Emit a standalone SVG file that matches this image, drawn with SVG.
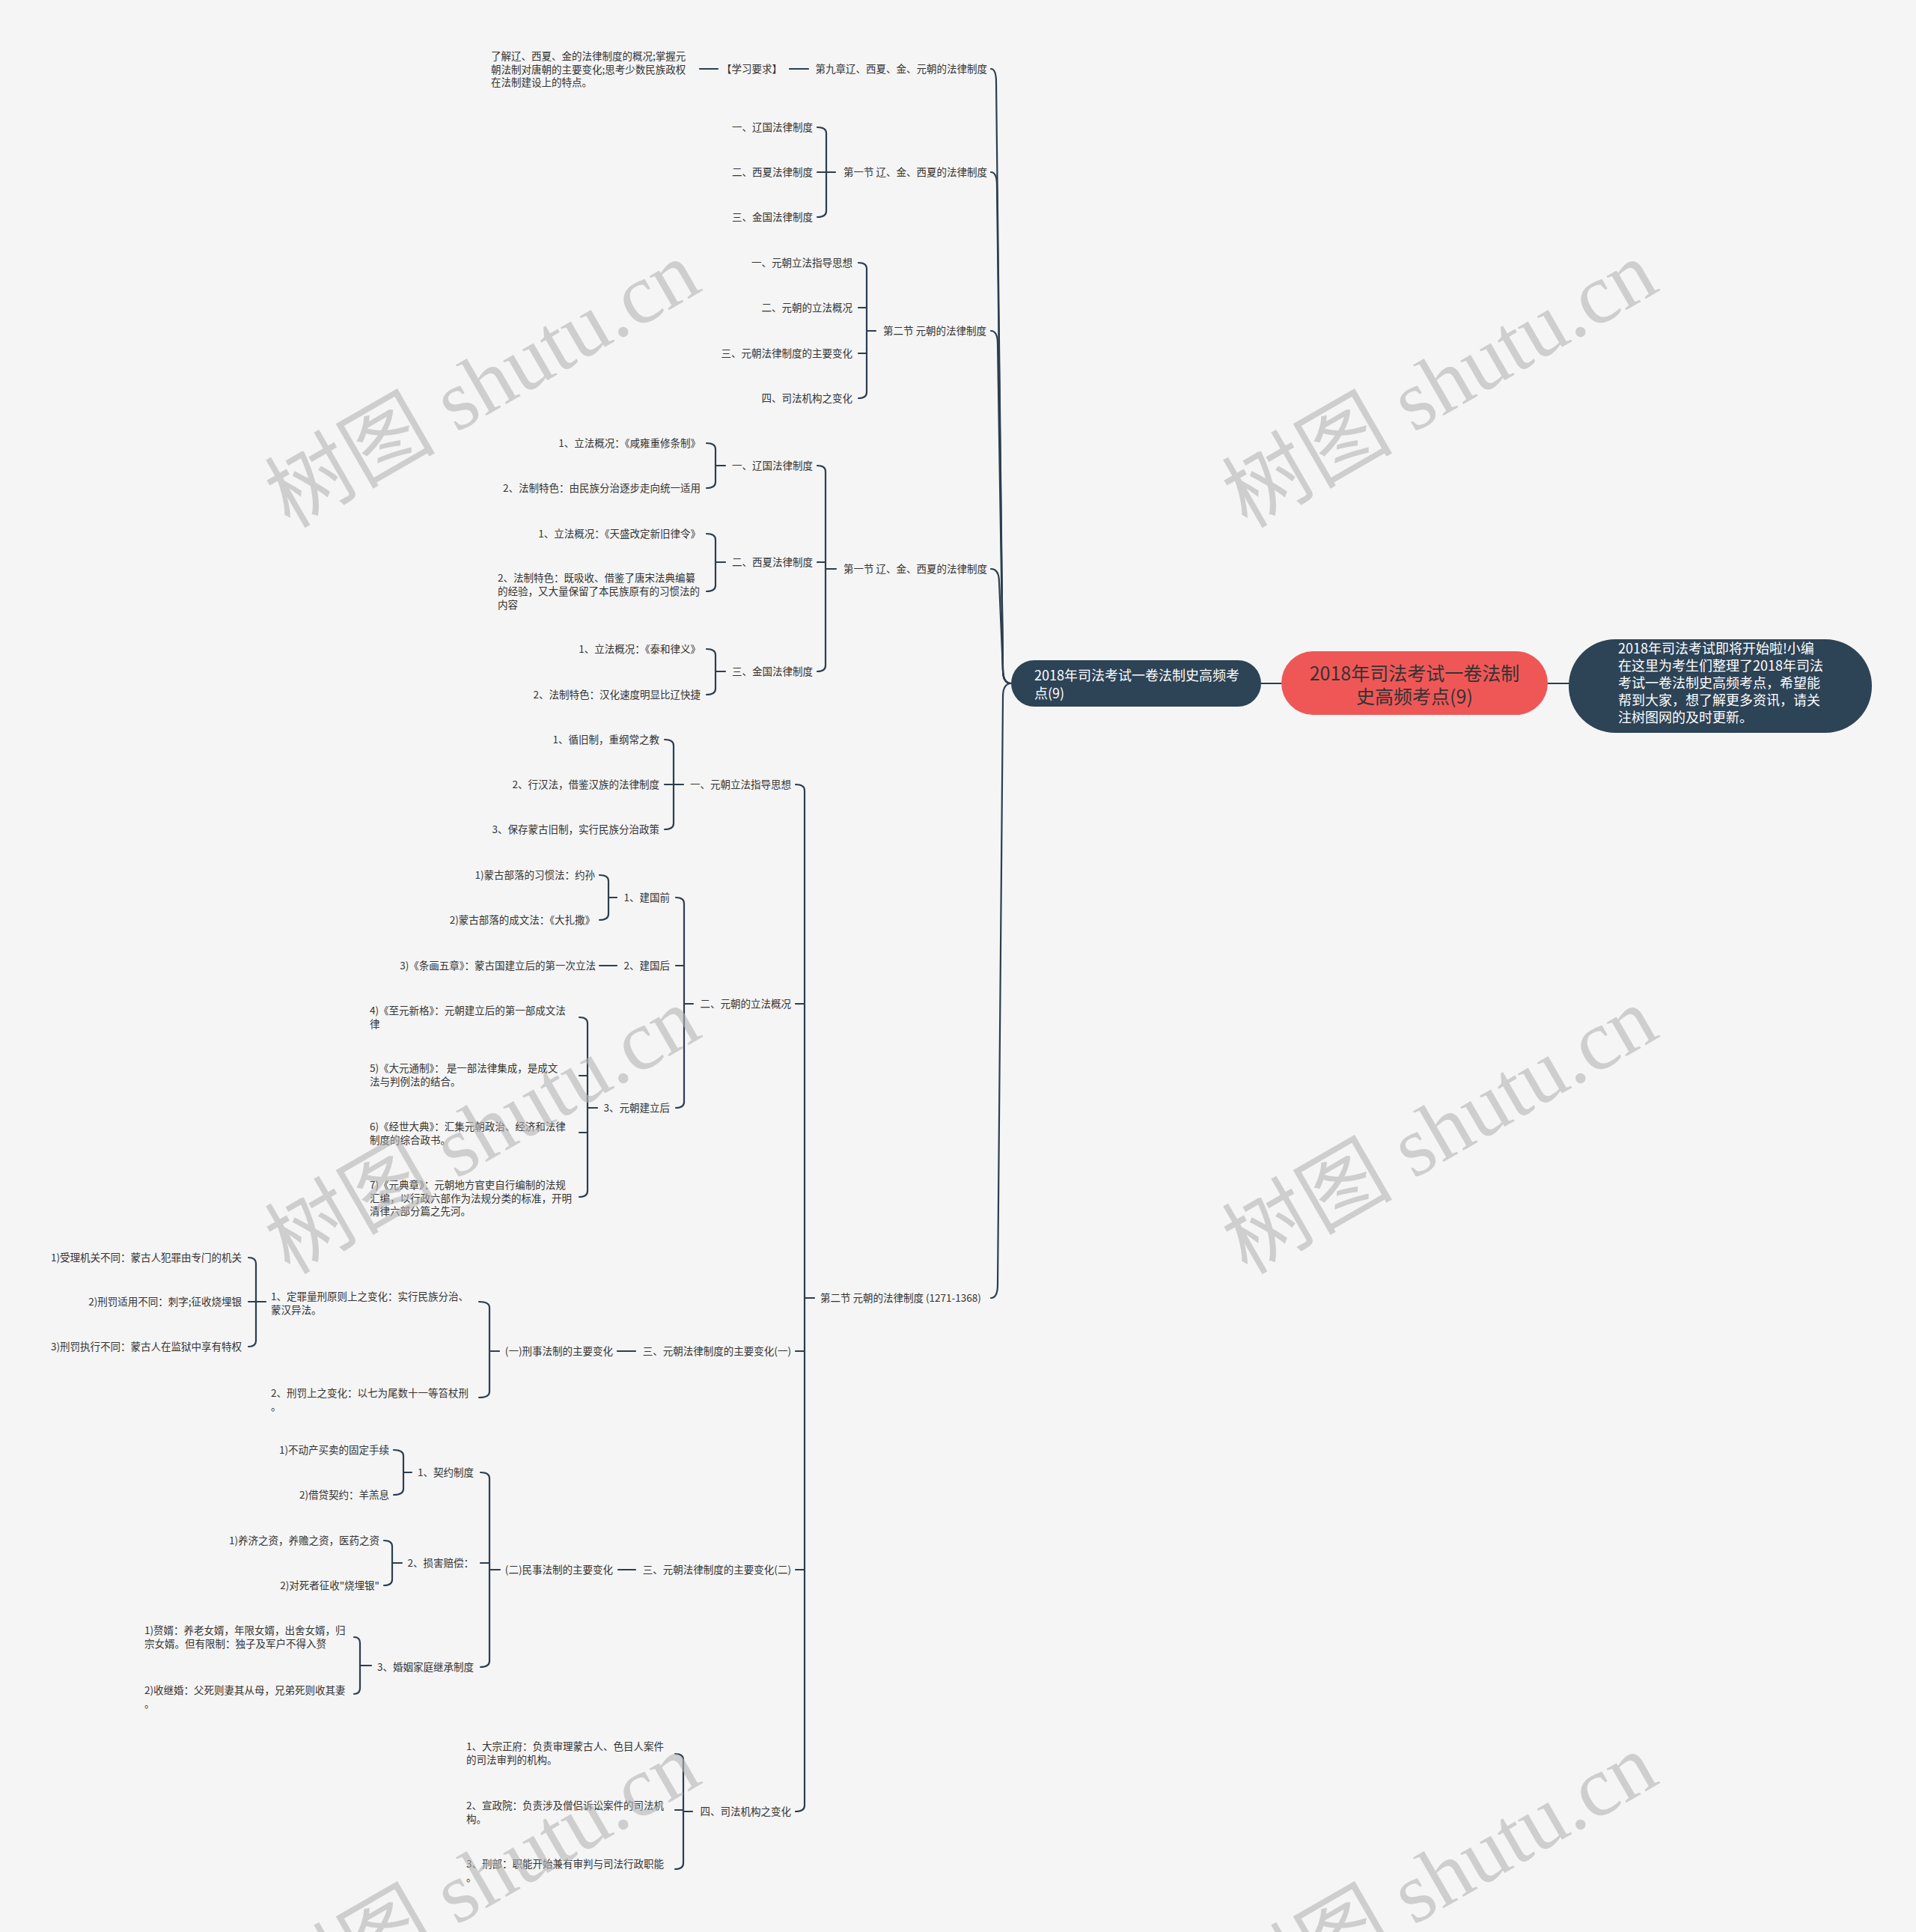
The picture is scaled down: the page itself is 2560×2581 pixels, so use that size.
<svg xmlns="http://www.w3.org/2000/svg" width="2560" height="2581" viewBox="0 0 2560 2581">
<style>
.t{font-family:"Noto Sans CJK SC","Noto Sans",sans-serif;font-size:13.5px;fill:#333333}
.e{text-anchor:end}
.ln{fill:none;stroke:#2C3E50;stroke-width:2.2;stroke-linecap:round}
.wm{font-family:"Liberation Serif","Noto Sans CJK SC",serif;font-size:114px;fill:#b4b4b4;fill-opacity:0.6;text-anchor:middle}
.nw{font-family:"Noto Sans CJK SC","Noto Sans",sans-serif;font-size:18px;fill:#ffffff}
</style>
<rect x="0" y="0" width="2560" height="2581" fill="#F5F5F5"/>

<g id="connectors" class="ln">
<path d="M1712 913 L1685 913"/>
<path d="M2068 913 L2096 913"/>
<path d="M1351 913 Q1340 913 1340 895 L1331 110 Q1331 92 1324 92"/>
<path d="M1351 913 Q1340 913 1340 895 L1332 248 Q1332 230 1324 230"/>
<path d="M1351 913 Q1340 913 1340 895 L1333 460 Q1333 442 1324 442"/>
<path d="M1351 913 Q1340 913 1340 895 L1335 778 Q1335 760 1324 760"/>
<path d="M1351 913 Q1340 913 1340 931 L1333 1716 Q1333 1734 1324 1734"/>
<path d="M1055 92 L1080 92 M935 92 L959 92"/>
<path d="M1092 170 Q1104 170 1104 178 L1104 282 Q1104 290 1092 290 M1092 230 L1116 230"/>
<path d="M1147 351 Q1158 351 1158 359 L1158 524 Q1158 532 1147 532 M1147 411 L1158 411 M1147 472 L1158 472 M1158 442 L1170 442"/>
<path d="M1092 622 Q1103 622 1103 630 L1103 889 Q1103 897 1092 897 M1092 751 L1103 751 M1103 760 L1117 760"/>
<path d="M944 592 Q956 592 956 600 L956 644 Q956 652 944 652 M956 622 L969 622"/>
<path d="M944 713 Q956 713 956 721 L956 782 Q956 790 944 790 M956 751 L969 751"/>
<path d="M944 867 Q956 867 956 875 L956 920 Q956 928 944 928 M956 897 L969 897"/>
<path d="M1063 1048 Q1075 1048 1075 1056 L1075 2412 Q1075 2420 1063 2420 M1063 1341 L1075 1341 M1063 1805 L1075 1805 M1063 2097 L1075 2097 M1075 1734 L1088 1734"/>
<path d="M888 988 Q900 988 900 996 L900 1100 Q900 1108 888 1108 M888 1048 L913 1048"/>
<path d="M903 1199 Q914 1199 914 1207 L914 1472 Q914 1480 903 1480 M903 1290 L914 1290 M914 1341 L926 1341"/>
<path d="M801 1169 Q813 1169 813 1177 L813 1221 Q813 1229 801 1229 M813 1199 L824 1199"/>
<path d="M801 1290 L824 1290"/>
<path d="M774 1359 Q785 1359 785 1367 L785 1591 Q785 1599 774 1599 M774 1437 L785 1437 M774 1513 L785 1513 M785 1480 L798 1480"/>
<path d="M825 1805 L849 1805"/>
<path d="M640 1739 Q654 1739 654 1747 L654 1859 Q654 1867 640 1867 M654 1805 L667 1805"/>
<path d="M332 1680 Q342 1680 342 1688 L342 1791 Q342 1799 332 1799 M332 1739 L355 1739"/>
<path d="M826 2097 L849 2097"/>
<path d="M642 1967 Q654 1967 654 1975 L654 2219 Q654 2227 642 2227 M642 2088 L654 2088 M654 2097 L668 2097"/>
<path d="M526 1937 Q539 1937 539 1945 L539 1989 Q539 1997 526 1997 M539 1967 L550 1967"/>
<path d="M513 2058 Q524 2058 524 2066 L524 2110 Q524 2118 513 2118 M524 2088 L537 2088"/>
<path d="M473 2187 Q481 2187 481 2195 L481 2255 Q481 2263 473 2263 M481 2225 L496 2225"/>
<path d="M902 2343 Q913 2343 913 2351 L913 2489 Q913 2497 902 2497 M902 2418 L913 2418 M913 2420 L925 2420"/>
</g>

<g id="root">
<rect x="1712" y="870" width="356" height="85" rx="42.5" fill="#EF5757"/>
<text x="1890" y="909" font-family="Noto Sans CJK SC, sans-serif" font-size="25" fill="#333333" text-anchor="middle">2018年司法考试一卷法制</text>
<text x="1890" y="940" font-family="Noto Sans CJK SC, sans-serif" font-size="25" fill="#333333" text-anchor="middle">史高频考点(9)</text>
</g>
<g id="intro">
<rect x="2096" y="854" width="405" height="125" rx="62" fill="#2D4356"/>
<text class="nw" x="2162" y="873">2018年司法考试即将开始啦!小编</text>
<text class="nw" x="2162" y="896">在这里为考生们整理了2018年司法</text>
<text class="nw" x="2162" y="919">考试一卷法制史高频考点，希望能</text>
<text class="nw" x="2162" y="942">帮到大家，想了解更多资讯，请关</text>
<text class="nw" x="2162" y="965">注树图网的及时更新。</text>
</g>
<g id="main">
<rect x="1351" y="882" width="334" height="62" rx="31" fill="#2D4356"/>
<text class="nw" x="1382" y="909">2018年司法考试一卷法制史高频考</text>
<text class="nw" x="1382" y="933">点(9)</text>
</g>

<g id="ch9">
<text class="t e" x="1319" y="97">第九章辽、西夏、金、元朝的法律制度</text>
</g>
<g id="req"><text class="t" x="964" y="97">【学习要求】</text></g>
<g id="req-text">
<text class="t" x="656" y="80">了解辽、西夏、金的法律制度的概况;掌握元</text>
<text class="t" x="656" y="97.5">朝法制对唐朝的主要变化;思考少数民族政权</text>
<text class="t" x="656" y="115">在法制建设上的特点。</text>
</g>

<g id="s1a">
<text class="t e" x="1319" y="235">第一节 辽、金、西夏的法律制度</text>
<text class="t e" x="1086" y="175">一、辽国法律制度</text>
<text class="t e" x="1086" y="235">二、西夏法律制度</text>
<text class="t e" x="1086" y="295">三、金国法律制度</text>
</g>

<g id="s2a">
<text class="t e" x="1318" y="447">第二节 元朝的法律制度</text>
<text class="t e" x="1139" y="356">一、元朝立法指导思想</text>
<text class="t e" x="1139" y="416">二、元朝的立法概况</text>
<text class="t e" x="1139" y="477">三、元朝法律制度的主要变化</text>
<text class="t e" x="1139" y="537">四、司法机构之变化</text>
</g>

<g id="s1b">
<text class="t e" x="1319" y="765">第一节 辽、金、西夏的法律制度</text>
<text class="t e" x="1086" y="627">一、辽国法律制度</text>
<text class="t e" x="936" y="597">1、立法概况：《咸雍重修条制》</text>
<text class="t e" x="936" y="657">2、法制特色：由民族分治逐步走向统一适用</text>
<text class="t e" x="1086" y="756">二、西夏法律制度</text>
<text class="t e" x="936" y="718">1、立法概况：《天盛改定新旧律令》</text>
<text class="t" x="665" y="777">2、法制特色：既吸收、借鉴了唐宋法典编纂</text>
<text class="t" x="665" y="795">的经验，又大量保留了本民族原有的习惯法的</text>
<text class="t" x="665" y="813">内容</text>
<text class="t e" x="1086" y="902">三、金国法律制度</text>
<text class="t e" x="936" y="872">1、立法概况：《泰和律义》</text>
<text class="t e" x="936" y="933">2、法制特色：汉化速度明显比辽快捷</text>
</g>

<g id="s2b">
<text class="t" x="1096" y="1739">第二节 元朝的法律制度 (1271-1368)</text>
</g>

<g id="e1">
<text class="t e" x="1057" y="1053">一、元朝立法指导思想</text>
<text class="t e" x="881" y="993">1、循旧制，重纲常之教</text>
<text class="t e" x="881" y="1053">2、行汉法，借鉴汉族的法律制度</text>
<text class="t e" x="881" y="1113">3、保存蒙古旧制，实行民族分治政策</text>
</g>

<g id="e2">
<text class="t e" x="1057" y="1346">二、元朝的立法概况</text>
<text class="t e" x="895" y="1204">1、建国前</text>
<text class="t e" x="795" y="1174">1)蒙古部落的习惯法：约孙</text>
<text class="t e" x="795" y="1234">2)蒙古部落的成文法：《大扎撒》</text>
<text class="t e" x="895" y="1295">2、建国后</text>
<text class="t e" x="796" y="1295">3)《条画五章》：蒙古国建立后的第一次立法</text>
<text class="t e" x="895" y="1485">3、元朝建立后</text>
<text class="t" x="494" y="1355">4)《至元新格》：元朝建立后的第一部成文法</text>
<text class="t" x="494" y="1372.5">律</text>
<text class="t" x="494" y="1432">5)《大元通制》： 是一部法律集成，是成文</text>
<text class="t" x="494" y="1449.5">法与判例法的结合。</text>
<text class="t" x="494" y="1510">6)《经世大典》：汇集元朝政治、经济和法律</text>
<text class="t" x="494" y="1527.5">制度的综合政书。</text>
<text class="t" x="494" y="1588">7)《元典章》：元朝地方官吏自行编制的法规</text>
<text class="t" x="494" y="1605.5">汇编，以行政六部作为法规分类的标准，开明</text>
<text class="t" x="494" y="1623">清律六部分篇之先河。</text>
</g>

<g id="e3">
<text class="t e" x="1057" y="1810">三、元朝法律制度的主要变化(一)</text>
<text class="t e" x="819" y="1810">(一)刑事法制的主要变化</text>
<text class="t" x="362" y="1737">1、定罪量刑原则上之变化：实行民族分治、</text>
<text class="t" x="362" y="1754.5">蒙汉异法。</text>
<text class="t e" x="323" y="1685">1)受理机关不同：蒙古人犯罪由专门的机关</text>
<text class="t e" x="323" y="1744">2)刑罚适用不同：刺字;征收烧埋银</text>
<text class="t e" x="323" y="1804">3)刑罚执行不同：蒙古人在监狱中享有特权</text>
<text class="t" x="362" y="1866">2、刑罚上之变化：以七为尾数十一等笞杖刑</text>
<text class="t" x="362" y="1883.5">。</text>
</g>

<g id="e4">
<text class="t e" x="1057" y="2102">三、元朝法律制度的主要变化(二)</text>
<text class="t e" x="819" y="2102">(二)民事法制的主要变化</text>
<text class="t e" x="633" y="1972">1、契约制度</text>
<text class="t e" x="520" y="1942">1)不动产买卖的固定手续</text>
<text class="t e" x="520" y="2002">2)借贷契约：羊羔息</text>
<text class="t e" x="633" y="2093">2、损害赔偿：</text>
<text class="t e" x="507" y="2063">1)养济之资，养赡之资，医药之资</text>
<text class="t e" x="507" y="2123">2)对死者征收"烧埋银"</text>
<text class="t e" x="633" y="2232">3、婚姻家庭继承制度</text>
<text class="t" x="193" y="2183">1)赘婿：养老女婿，年限女婿，出舍女婿，归</text>
<text class="t" x="193" y="2200.5">宗女婿。但有限制：独子及军户不得入赘</text>
<text class="t" x="193" y="2263">2)收继婚：父死则妻其从母，兄弟死则收其妻</text>
<text class="t" x="193" y="2280.5">。</text>
</g>

<g id="e5">
<text class="t e" x="1057" y="2425">四、司法机构之变化</text>
<text class="t" x="623" y="2338">1、大宗正府：负责审理蒙古人、色目人案件</text>
<text class="t" x="623" y="2355.5">的司法审判的机构。</text>
<text class="t" x="623" y="2417">2、宣政院：负责涉及僧侣诉讼案件的司法机</text>
<text class="t" x="623" y="2434.5">构。</text>
<text class="t" x="623" y="2495">3、刑部：职能开始兼有审判与司法行政职能</text>
<text class="t" x="623" y="2512.5">。</text>
</g>

<g id="watermarks">
<text class="wm" transform="translate(645 514) rotate(-30)" y="38">树图 shutu.cn</text>
<text class="wm" transform="translate(1924 514) rotate(-30)" y="38">树图 shutu.cn</text>
<text class="wm" transform="translate(645 1511) rotate(-30)" y="38">树图 shutu.cn</text>
<text class="wm" transform="translate(1924 1511) rotate(-30)" y="38">树图 shutu.cn</text>
<text class="wm" transform="translate(645 2508) rotate(-30)" y="38">树图 shutu.cn</text>
<text class="wm" transform="translate(1924 2508) rotate(-30)" y="38">树图 shutu.cn</text>
</g>
</svg>
